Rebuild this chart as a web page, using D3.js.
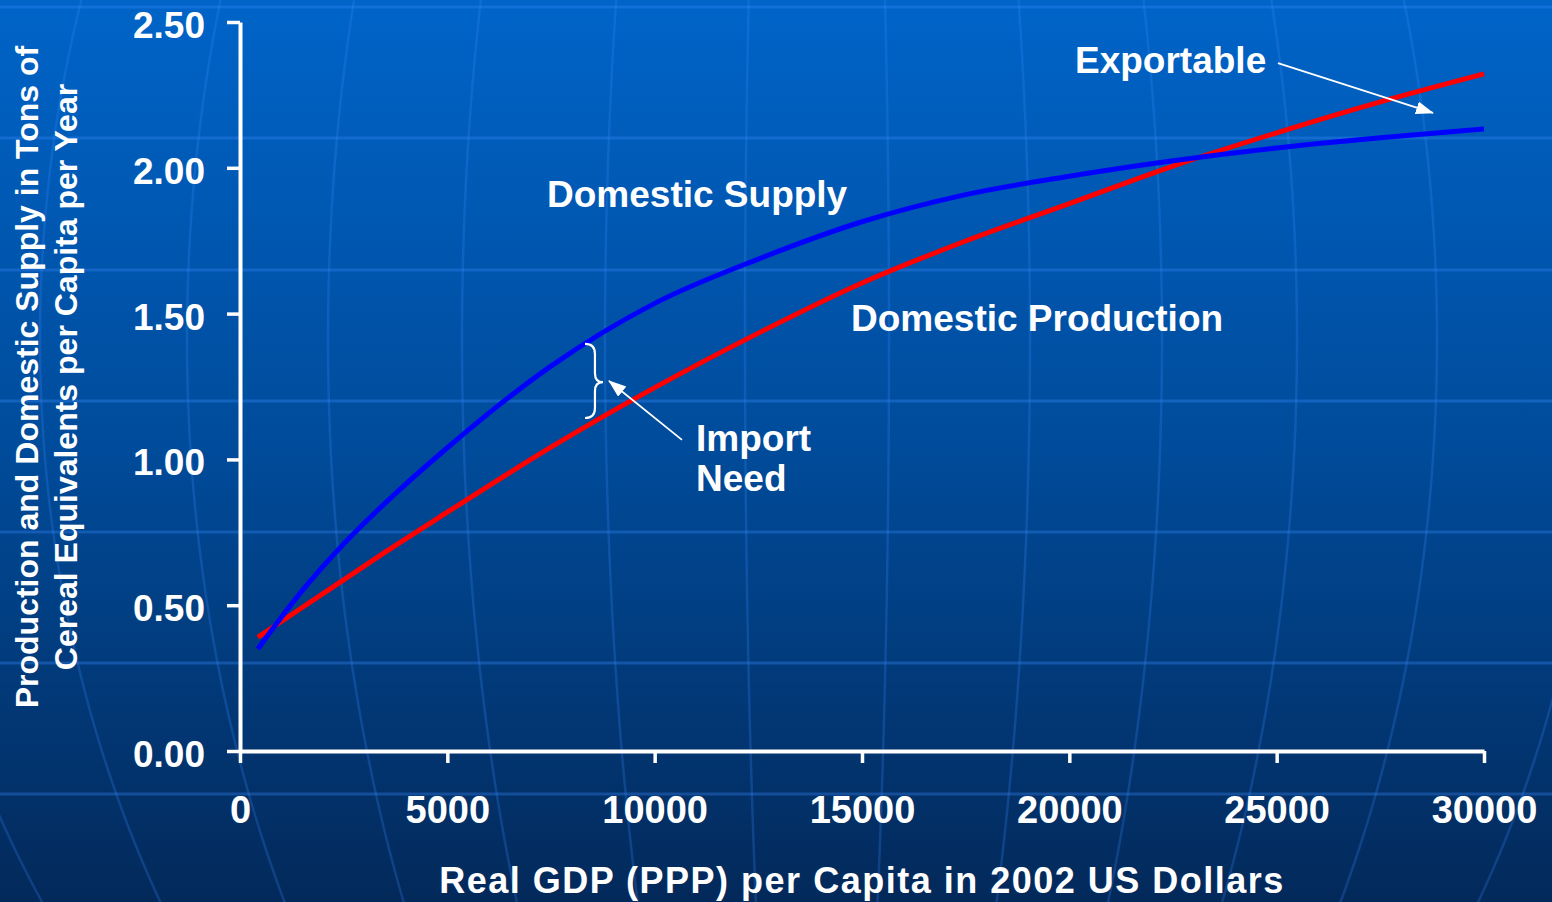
<!DOCTYPE html>
<html>
<head>
<meta charset="utf-8">
<script src="https://cdn.jsdelivr.net/npm/d3@7"></script>
<style>
  html, body { margin: 0; padding: 0; background: #02306a; }
  svg { display: block; }
  text { font-family: "Liberation Sans", Arial, sans-serif; font-weight: bold; fill: #fff; }
</style>
</head>
<body>
<svg id="chart"></svg>
<script>
// values
const gdp = [430, 1500, 2500, 3500, 5000, 7500, 10000, 12500, 15000, 17500, 20000, 22500, 25000, 27500, 30000];
const domesticSupply = [0.35, 0.55, 0.71, 0.85, 1.04, 1.32, 1.535, 1.687, 1.815, 1.908, 1.971, 2.024, 2.068, 2.103, 2.133];
const domesticProduction = [0.39, 0.492, 0.587, 0.682, 0.819, 1.042, 1.246, 1.433, 1.605, 1.749, 1.877, 2.006, 2.12, 2.226, 2.322];
const xTicks = [0, 5000, 10000, 15000, 20000, 25000, 30000];
const yTicks = [0, 0.5, 1, 1.5, 2, 2.5];

const width = 1552;
const height = 902;

const svg = d3.select("#chart").attr("width", width).attr("height", height);

// background gradient
const defs = svg.append("defs");
const grad = defs.append("linearGradient").attr("id", "bg")
    .attr("x1", 0).attr("y1", 0).attr("x2", 0).attr("y2", 1);
grad.append("stop").attr("offset", "0%").attr("stop-color", "#0064c8");
grad.append("stop").attr("offset", "50%").attr("stop-color", "#004b9a");
grad.append("stop").attr("offset", "100%").attr("stop-color", "#03295a");

defs.append("marker").attr("id", "arrow")
    .attr("markerUnits", "userSpaceOnUse")
    .attr("markerWidth", 18).attr("markerHeight", 14)
    .attr("refX", 17).attr("refY", 6.5)
    .attr("orient", "auto")
    .append("path").attr("d", "M0,0 L18,6.5 L0,13 Z").attr("fill", "#fff");

svg.append("rect").attr("width", width).attr("height", height).attr("fill", "url(#bg)");

// globe decoration
const deco = svg.append("g").attr("fill", "none");
[7, 138, 270, 401, 532, 663, 794].forEach(y => {
    deco.append("line").attr("x1", 0).attr("x2", width).attr("y1", y).attr("y2", y)
        .attr("stroke", "#3a8cff").attr("stroke-opacity", 0.32).attr("stroke-width", 3);
});
const meridianPeaks = [-100, 40, 187, 328, 462, 605, 745, 889, 1030, 1162, 1297, 1437, 1600];
const ys = d3.range(0, height + 10, 10);
meridianPeaks.forEach(p => {
    const path = d3.line()
        .x(y => 815 + (p - 815) * Math.sqrt(1 - Math.pow((y - 339) / 1052, 2)))
        .y(y => y);
    deco.append("path").attr("d", path(ys))
        .attr("stroke", "#3a8cff").attr("stroke-opacity", 0.24).attr("stroke-width", 2.5);
});

// scales
const x = d3.scaleLinear().domain([0, 30000]).range([240, 1484]);
const y = d3.scaleLinear().domain([0, 2.5]).range([751, 22]);

// axes
const xAxis = svg.append("g").attr("transform", `translate(0,${y(0)})`)
    .call(d3.axisBottom(x).tickValues(xTicks).tickFormat(d3.format("d"))
        .tickSize(12).tickSizeOuter(0).tickPadding(33));
const yAxis = svg.append("g").attr("transform", `translate(${x(0)},0)`)
    .call(d3.axisLeft(y).tickValues(yTicks).tickFormat(d3.format(".2f"))
        .tickSize(13).tickSizeOuter(0).tickPadding(22));

[xAxis, yAxis].forEach(g => {
    g.select(".domain").attr("stroke", "#fff").attr("stroke-width", 4);
    g.selectAll(".tick line").attr("stroke", "#fff").attr("stroke-width", 3.5);
    g.selectAll(".tick text").attr("fill", "#fff")
        .style("font-family", '"Liberation Sans", Arial, sans-serif').style("font-weight", "bold");
});
xAxis.selectAll(".tick text").style("font-size", "38px");
yAxis.selectAll(".tick text").style("font-size", "37px").attr("dy", "0.42em");

// axis titles
svg.append("text").attr("x", 862).attr("y", 893).attr("text-anchor", "middle")
    .style("font-size", "36px").style("letter-spacing", "1.5px")
    .text("Real GDP (PPP) per Capita in 2002 US Dollars");

const yTitle = ["Production and Domestic Supply in Tons of", "Cereal Equivalents per Capita per Year"];
yTitle.forEach((t, i) => {
    svg.append("text").attr("transform", `translate(${38 + i * 39},377) rotate(-90)`)
        .attr("text-anchor", "middle").style("font-size", "32px").text(t);
});

// lines
const line = d3.line().x(d => x(d[0])).y(d => y(d[1])).curve(d3.curveMonotoneX);
svg.append("path").datum(d3.zip(gdp, domesticProduction)).attr("d", line)
    .attr("fill", "none").attr("stroke", "#ff0000").attr("stroke-width", 5);
svg.append("path").datum(d3.zip(gdp, domesticSupply)).attr("d", line)
    .attr("fill", "none").attr("stroke", "#0000ff").attr("stroke-width", 5);

// annotations (data units)
const labels = [
    { text: "Domestic Supply", gx: 7404, v: 1.866 },
    { text: "Domestic Production", gx: 14735, v: 1.440 },
    { text: "Exportable", gx: 20137, v: 2.325 },
    { text: "Import", gx: 10997, v: 1.029 },
    { text: "Need", gx: 10997, v: 0.892 }
];
svg.selectAll(".lbl").data(labels).join("text").attr("class", "lbl")
    .attr("x", d => x(d.gx)).attr("y", d => y(d.v))
    .style("font-size", "37px").text(d => d.text);

const arrows = [
    { from: [25032, 2.359], to: [28770, 2.188] },
    { from: [10659, 1.067], to: [8899, 1.269] }
];
arrows.forEach(a => {
    svg.append("line")
        .attr("x1", x(a.from[0])).attr("y1", y(a.from[1]))
        .attr("x2", x(a.to[0])).attr("y2", y(a.to[1]))
        .attr("stroke", "#fff").attr("stroke-width", 1.8)
        .attr("marker-end", "url(#arrow)");
});

// brace between the curves
const bx = x(8320), bm = x(8560), bt = x(8754);
const yTop = y(1.396), yMid = y(1.265), yBot = y(1.142);
const brace = d3.path();
brace.moveTo(bx, yTop);
brace.quadraticCurveTo(bm, yTop, bm, yTop + 10);
brace.lineTo(bm, yMid - 9);
brace.quadraticCurveTo(bm, yMid, bt, yMid);
brace.quadraticCurveTo(bm, yMid, bm, yMid + 9);
brace.lineTo(bm, yBot - 10);
brace.quadraticCurveTo(bm, yBot, bx, yBot);
svg.append("path").attr("d", brace.toString())
    .attr("fill", "none").attr("stroke", "#fff").attr("stroke-width", 2.2);
</script>
</body>
</html>
